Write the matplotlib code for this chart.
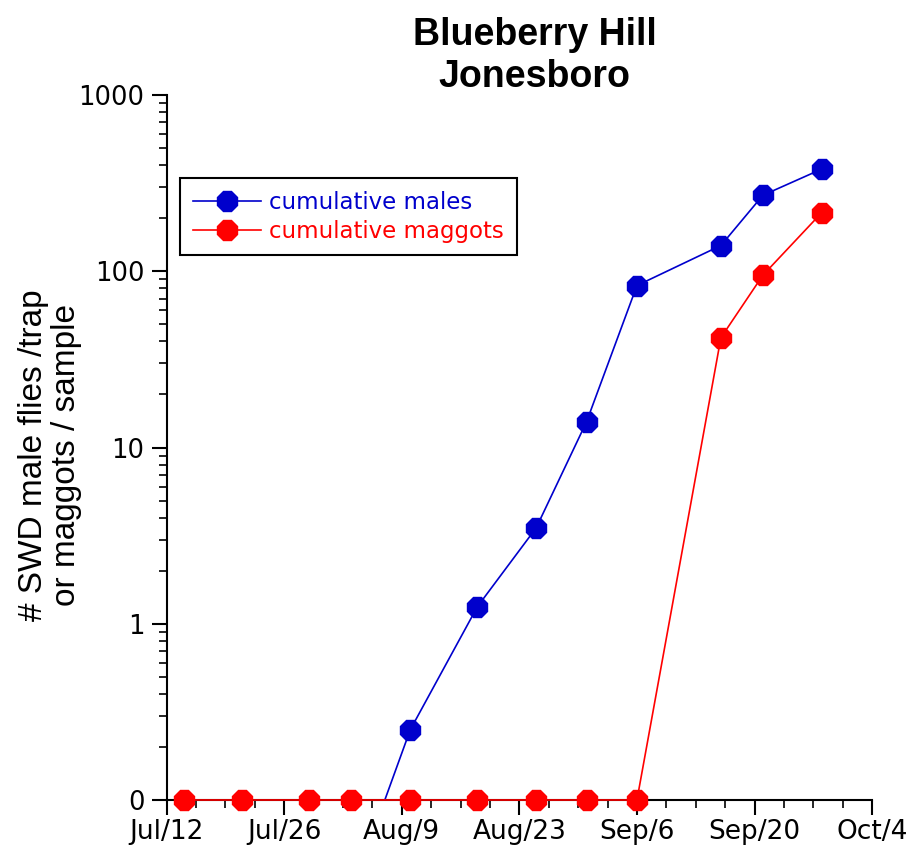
import matplotlib
matplotlib.use("Agg")
import matplotlib.pyplot as plt
import matplotlib.dates as mdates
from matplotlib.ticker import FixedLocator, FuncFormatter, LogLocator, NullFormatter
import numpy as np
import datetime as dt

plt.rcParams['font.family'] = ['Liberation Sans', 'DejaVu Sans']

# sampling dates and cumulative counts
dates = ["2013-07-14", "2013-07-21", "2013-07-29", "2013-08-03", "2013-08-10",
         "2013-08-18", "2013-08-25", "2013-08-31", "2013-09-06", "2013-09-16",
         "2013-09-21", "2013-09-28"]
males = [np.nan, np.nan, np.nan, 0.03, 0.25, 1.25, 3.5, 14, 83, 140, 270, 380]
maggots = [0.1, 0.1, 0.1, 0.1, 0.1, 0.1, 0.1, 0.1, 0.1, 42, 95, 215]
xtick_start = "2013-07-12"
xtick_labels = ["Jul/12", "Jul/26", "Aug/9", "Aug/23", "Sep/6", "Sep/20", "Oct/4"]
ytick_vals = [0.1, 1, 10, 100, 1000]
ytick_labels = ["0", "1", "10", "100", "1000"]

x = [dt.datetime.strptime(d, "%Y-%m-%d") for d in dates]
start = dt.datetime.strptime(xtick_start, "%Y-%m-%d")
xticks = [start + dt.timedelta(days=14 * i) for i in range(len(xtick_labels))]

fig = plt.figure(figsize=(9.17, 8.47), dpi=100)
ax = fig.add_axes([0.1818, 0.0555, 0.7692, 0.8323])

blue = "#0000CC"
red = "#FF0000"
ax.plot(x, males, color=blue, marker="8", markersize=16, lw=1.2,
        label="cumulative males", zorder=3)
ax.plot(x, maggots, color=red, marker="8", markersize=16, lw=1.2,
        label="cumulative maggots", clip_on=False, zorder=4)

ax.set_yscale("log")
ax.set_ylim(0.1, 1000)
ax.yaxis.set_major_locator(FixedLocator(ytick_vals))
ax.yaxis.set_major_formatter(FuncFormatter(lambda v, p: ytick_labels[ytick_vals.index(v)] if v in ytick_vals else ""))
ax.yaxis.set_minor_locator(LogLocator(base=10, subs=np.arange(2, 10)))
ax.yaxis.set_minor_formatter(NullFormatter())

ax.set_xlim(xticks[0], xticks[-1])
ax.set_xticks(xticks)
ax.set_xticklabels(xtick_labels)
minor = [start + dt.timedelta(days=3.5 * i) for i in range(25)]
ax.xaxis.set_minor_locator(FixedLocator(mdates.date2num(minor)))

for s in ["top", "right"]:
    ax.spines[s].set_visible(False)
for s in ["left", "bottom"]:
    ax.spines[s].set_linewidth(1.5)
ax.tick_params(axis="both", which="major", direction="out", length=11, width=1.5)
ax.tick_params(axis="both", which="minor", direction="out", length=6, width=1.2)
ax.tick_params(axis="x", which="major", pad=3)
ax.tick_params(axis="y", which="major", pad=5)
fig.canvas.draw()
for lab in ax.get_xticklabels():
    lab.set_fontfamily("DejaVu Sans")
    lab.set_fontsize(19)
for lab in ax.get_yticklabels():
    lab.set_fontfamily("DejaVu Sans")
    lab.set_fontsize(18.5)

fig.text(50 / 917, 1 - 455 / 847, "# SWD male flies /trap\nor maggots / sample",
         rotation=90, ha="center", va="center", multialignment="center",
         fontsize=24, linespacing=1.12)
fig.text(0.583, 0.98, "Blueberry Hill\nJonesboro", ha="center", va="top",
         fontsize=27, fontweight="bold", linespacing=1.22)

leg = ax.legend(loc="upper left", bbox_to_anchor=(0.019, 0.882), borderaxespad=0,
                prop={"family": "DejaVu Sans", "size": 16.5}, frameon=True,
                fancybox=False, edgecolor="black", framealpha=1,
                handlelength=3.0, handletextpad=0.35, labelspacing=0.25,
                borderpad=0.55)
leg.get_frame().set_linewidth(1.5)
for t, c in zip(leg.get_texts(), [blue, red]):
    t.set_color(c)

fig.savefig("out.png", dpi=100)
